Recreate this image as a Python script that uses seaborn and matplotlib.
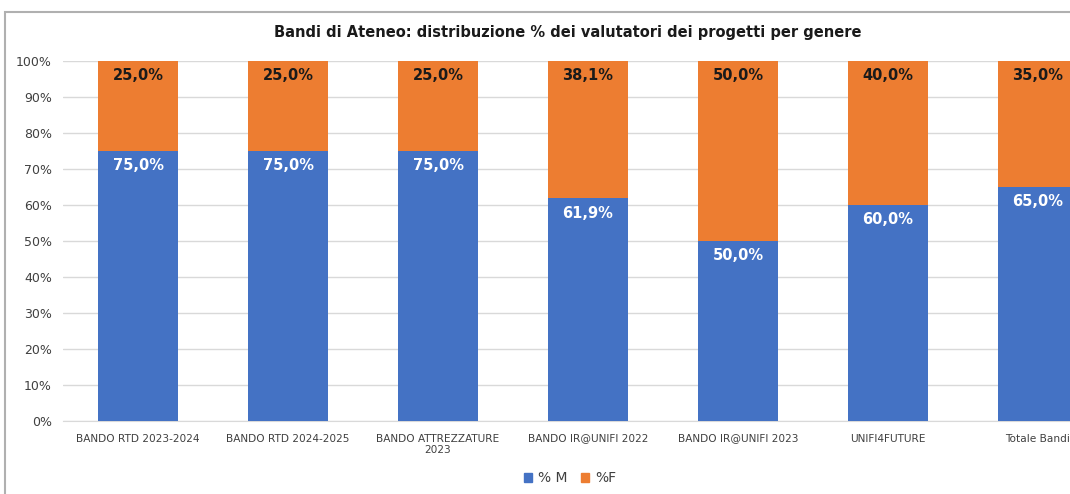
import matplotlib
matplotlib.use("Agg")
import matplotlib.pyplot as plt
import matplotlib.patches as mpatches
import seaborn as sns
import pandas as pd

# dati
bandi = ["BANDO RTD 2023-2024", "BANDO RTD 2024-2025", "BANDO ATTREZZATURE\n2023",
         "BANDO IR@UNIFI 2022", "BANDO IR@UNIFI 2023", "UNIFI4FUTURE", "Totale Bandi"]
perc_m = [75.0, 75.0, 75.0, 61.9, 50.0, 60.0, 65.0]
perc_f = [25.0, 25.0, 25.0, 38.1, 50.0, 40.0, 35.0]

df = pd.DataFrame({"bando": bandi, "M": perc_m, "F": perc_f})
df["tot"] = df["M"] + df["F"]

blu = "#4472C4"
arancio = "#ED7D31"

sns.set_style("white")
plt.rcParams["font.family"] = ["DejaVu Sans"]

fig = plt.figure(figsize=(10.70, 4.94), dpi=100)
# l'area del grafico esce a destra, come nello screenshot
ax = fig.add_axes([63 / 1070, 73 / 494, 1050 / 1070, 360 / 494])

# barre impilate: totale in arancio, poi M in blu sopra
sns.barplot(data=df, x="bando", y="tot", color=arancio, saturation=1, width=0.53, ax=ax, zorder=2,
            linewidth=0, edgecolor="none")
sns.barplot(data=df, x="bando", y="M", color=blu, saturation=1, width=0.53, ax=ax, zorder=3,
            linewidth=0, edgecolor="none")

ax.set_ylim(0, 100)
ax.set_xlim(-0.5, len(bandi) - 0.5)
ax.set_yticks(range(0, 101, 10))
ax.set_yticklabels([f"{v}%" for v in range(0, 101, 10)], fontsize=9, color="#404040")
ax.tick_params(axis="x", labelsize=7.6, colors="#404040", length=0, pad=9)
ax.tick_params(axis="y", length=0, pad=8)
ax.set_xlabel("")
ax.set_ylabel("")
ax.grid(axis="y", color="#d9d9d9", lw=1, zorder=0)
for s in ["top", "right", "left"]:
    ax.spines[s].set_visible(False)
ax.spines["bottom"].set_color("#d9d9d9")

# etichette con virgola decimale
for i, (m, f, t) in enumerate(zip(df["M"], df["F"], df["tot"])):
    ax.annotate(f"{f:.1f}%".replace(".", ","), (i, t), xytext=(0, -14), textcoords="offset pixels",
                ha="center", va="center", fontsize=10.5, fontweight="bold", color="#1a1a1a", zorder=5)
    ax.annotate(f"{m:.1f}%".replace(".", ","), (i, m), xytext=(0, -15), textcoords="offset pixels",
                ha="center", va="center", fontsize=10.5, fontweight="bold", color="white", zorder=5)

fig.text(568 / 1070, 1 - 32 / 494, "Bandi di Ateneo: distribuzione % dei valutatori dei progetti per genere",
         ha="center", va="center", fontsize=10.5, fontweight="bold", color="#1a1a1a")

handles = [mpatches.Patch(color=blu, label="% M"), mpatches.Patch(color=arancio, label="%F")]
fig.legend(handles=handles, loc="center", bbox_to_anchor=(570 / 1070, 16 / 494), ncol=2, frameon=False,
           fontsize=10, handlelength=0.6, handleheight=0.6, handletextpad=0.4, columnspacing=1.0,
           labelcolor="#404040")

# cornice grigia dell'area grafico
fig.add_artist(mpatches.Rectangle((5 / 1070, -0.1), 1.2, (494 - 12) / 494 + 0.1, transform=fig.transFigure,
                                  fill=False, ec="#b0b0b0", lw=1.5))

fig.savefig("out.png", dpi=100)
